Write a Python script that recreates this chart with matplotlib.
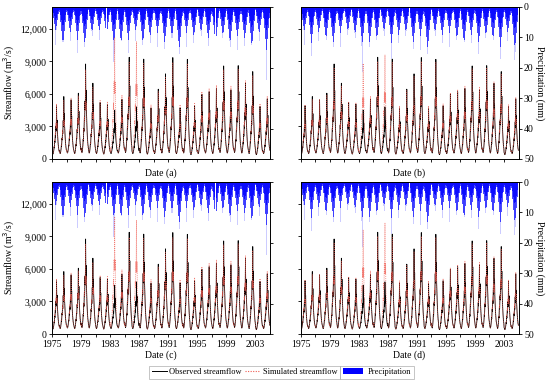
import numpy as np
import matplotlib
matplotlib.use("Agg")
import matplotlib.pyplot as plt
from matplotlib.lines import Line2D
from matplotlib.patches import Patch

plt.rcParams['font.family'] = ['Liberation Serif', 'DejaVu Serif']
plt.rcParams['axes.linewidth'] = 0.6

# ---------------- data ----------------
years = list(range(1975, 2005))

# annual peak of observed streamflow (m3/s)
obs_peak = [4900, 5750, 5450, 6060, 8750, 6980, 5200, 5050, 4500, 5500,
            9370, 4800, 9200, 4700, 6430, 7840, 9340, 4700, 9180, 4900,
            5970, 6200, 6500, 8570, 6370, 8600, 6980, 8050, 4840, 5540]
# annual low flow (m3/s)
obs_base = [450, 500, 550, 500, 600, 550, 500, 450, 500, 550,
            600, 500, 550, 450, 500, 550, 600, 500, 550, 400,
            500, 550, 500, 600, 550, 600, 550, 500, 400, 500]
sim_base = [400, 450, 500, 450, 500, 500, 450, 400, 450, 500,
            550, 450, 500, 400, 450, 500, 550, 450, 500, 380,
            450, 500, 450, 550, 500, 550, 500, 450, 380, 450]

# simulated annual peaks, one list per panel
sim_peak_a = [5100, 5400, 5600, 5800, 8200, 6600, 5400, 5300, 11200, 5900,
              8900, 10800, 8800, 5000, 6200, 7500, 8900, 5000, 8800, 5200,
              6200, 6500, 6800, 8200, 6700, 8300, 7200, 7700, 5100, 5800]
sim_peak_b = [5000, 5500, 5500, 5900, 8400, 6700, 5300, 5200, 8800, 5800,
              9000, 9600, 8900, 4900, 6300, 7600, 9000, 4900, 8900, 5100,
              6100, 6400, 6700, 8300, 6600, 8400, 7100, 7800, 5000, 5700]
sim_peak_c = [5100, 5400, 5600, 5800, 8300, 6600, 5400, 5300, 10800, 5900,
              8900, 10500, 8800, 5000, 6200, 7500, 8900, 5000, 8800, 5200,
              6200, 6500, 6800, 8200, 6700, 8300, 7200, 7700, 5100, 5800]
sim_peak_d = [5000, 5500, 5500, 5900, 8400, 6700, 5300, 5200, 9600, 5800,
              9000, 10200, 8900, 4900, 6300, 7600, 9000, 4900, 8900, 5100,
              6100, 6400, 6700, 8300, 6600, 8400, 7100, 7800, 5000, 5700]

# within-year (dekad, 36 per year) shape of the hydrograph, Jan -> Dec
obs_shape = [0.05, 0.03, 0.02, 0.01, 0.00, 0.01, 0.02, 0.04, 0.07,
             0.10, 0.15, 0.13, 0.20, 0.27, 0.24, 0.33, 0.40, 0.35,
             0.45, 0.58, 0.48, 0.62, 1.00, 0.66, 0.55, 0.70, 0.48,
             0.40, 0.33, 0.27, 0.21, 0.17, 0.13, 0.10, 0.08, 0.06]
sim_shape = [0.06, 0.04, 0.02, 0.01, 0.01, 0.02, 0.03, 0.05, 0.09,
             0.12, 0.17, 0.16, 0.24, 0.30, 0.27, 0.37, 0.44, 0.38,
             0.50, 0.62, 0.52, 0.70, 1.00, 0.60, 0.52, 0.62, 0.44,
             0.36, 0.30, 0.24, 0.19, 0.15, 0.11, 0.09, 0.07, 0.06]

# precipitation (mm): depth of dense core and of sparse tail for each year
prec_core = [8.0, 12.0, 8.5, 10.7, 12.0, 8.5, 8.0, 9.0, 12.0, 12.0,
             10.7, 8.0, 12.0, 9.6, 8.5, 12.0, 9.6, 14.0, 8.5, 9.6,
             8.5, 10.7, 12.0, 9.6, 12.0, 9.6, 10.7, 13.0, 8.5, 14.0]
prec_tail = [14.5, 16.0, 13.0, 15.0, 15.5, 13.0, 12.5, 14.0, 25.0, 15.5,
             15.0, 13.0, 17.0, 14.0, 13.0, 16.0, 14.0, 18.0, 13.0, 14.0,
             13.0, 15.0, 16.0, 14.0, 18.0, 14.0, 15.0, 17.0, 13.0, 24.0]
prec_shape = [0.12, 0.15, 0.20, 0.25, 0.30, 0.35, 0.40, 0.45, 0.50,
              0.55, 0.60, 0.65, 0.70, 0.75, 0.80, 0.85, 0.90, 0.95,
              1.00, 0.95, 0.90, 0.85, 0.80, 0.75, 0.70, 0.65, 0.60,
              0.55, 0.50, 0.45, 0.40, 0.35, 0.30, 0.25, 0.20, 0.15]

panel_letters = ['a', 'b', 'c', 'd']
sim_peaks = [sim_peak_a, sim_peak_b, sim_peak_c, sim_peak_d]
year_ticks = [1975, 1979, 1983, 1987, 1991, 1995, 1999, 2003]

# ---------------- build series ----------------
nd = 36
t = np.array([y + (d + 0.5) / nd for y in years for d in range(nd)])


def series(peaks, base, shape):
    return np.array([b + (p - b) * s for p, b in zip(peaks, base) for s in shape])


obs = series(obs_peak, obs_base, obs_shape)
shp = np.array(prec_shape)
p_core = np.concatenate([c * shp for c in prec_core])
p_dense = np.concatenate([0.55 * c * shp for c in prec_core])
p_tail = np.concatenate([tl * shp ** 3 for tl in prec_tail])

# ---------------- figure ----------------
fig = plt.figure(figsize=(5.5, 3.83), dpi=100)
W, H = 550.0, 383.0
boxes = [(52, 7), (300.5, 7), (52, 182), (300.5, 182)]
aw, ah = 218, 152
blue = '#0000ff'
simcol = '#ee5a50'

for i, (x0, y0) in enumerate(boxes):
    ax = fig.add_axes([x0 / W, 1 - (y0 + ah) / H, aw / W, ah / H])
    ax2 = ax.twinx()
    ax.set_zorder(2)
    ax.patch.set_visible(False)

    bw = 1.0 / nd
    ax2.bar(t, p_tail, width=bw, color=blue, alpha=0.2, linewidth=0)
    ax2.bar(t, p_core, width=bw, color=blue, alpha=0.7, linewidth=0)
    ax2.bar(t, p_dense, width=bw, color=blue, alpha=0.8, linewidth=0)
    ax2.set_ylim(50, 0)
    ax2.set_yticks([0, 10, 20, 30, 40, 50])

    sim = series(sim_peaks[i], sim_base, sim_shape)
    ax.plot(t, obs, color='black', lw=0.6)
    ax.plot(t, sim, color=simcol, lw=0.6, ls=(0, (1, 1.3)), alpha=0.8)

    ax.set_xlim(1975, 2005)
    ax.set_ylim(0, 14000)
    ax.set_yticks([0, 3000, 6000, 9000, 12000])
    ax.set_xticks(year_ticks)
    ax.set_xticks(list(range(1977, 2005, 4)), minor=True)
    ax.tick_params(axis='both', which='both', direction='out', labelsize=7,
                   length=2.5, width=0.6, pad=1.5)
    ax2.tick_params(axis='y', direction='out', labelsize=7, length=2.5, width=0.6, pad=1.5)
    ax.tick_params(axis='x', which='minor', length=2)

    if i % 2 == 0:
        ax.set_yticklabels(['0', '3,000', '6,000', '9,000', '12,000'])
        ax.set_ylabel('Streamflow (m$^3$/s)', fontsize=7, labelpad=2)
        ax2.set_yticklabels([])
    else:
        ax.set_yticklabels([])
        ax2.set_ylabel('Precipitation (mm)', fontsize=7, rotation=270, labelpad=8)
    if i < 2:
        ax.set_xticklabels([])
        ax.set_xlabel('Date (%s)' % panel_letters[i], fontsize=7, labelpad=3)
    else:
        ax.set_xticklabels([str(y) for y in year_ticks])
        ax.set_xlabel('Date (%s)' % panel_letters[i], fontsize=7, labelpad=1.5)

# legends
h1 = [Line2D([], [], color='black', lw=0.7),
      Line2D([], [], color=simcol, lw=0.8, ls=(0, (1, 1.3)))]
leg1 = fig.legend(h1, ['Observed streamflow', 'Simulated streamflow'], ncol=2,
                  loc='center left', bbox_to_anchor=(149 / W, 1 - 372 / H),
                  fontsize=6, frameon=True, fancybox=False, edgecolor='#999999',
                  handlelength=1.8, columnspacing=0.4, handletextpad=0.35,
                  borderpad=0.3, borderaxespad=0)
leg1.get_frame().set_linewidth(0.5)
fig.canvas.draw()
bb = leg1.get_window_extent()
x_after = bb.x1 / fig.bbox.width
h2 = [Patch(facecolor=blue, edgecolor='none')]
leg2 = fig.legend(h2, ['Precipitation'], loc='center left',
                  bbox_to_anchor=(x_after, 1 - 372 / H),
                  fontsize=6, frameon=True, fancybox=False, edgecolor='#999999',
                  handlelength=2.5, handletextpad=0.5, borderpad=0.3, borderaxespad=0)
leg2.get_frame().set_linewidth(0.5)

fig.savefig('out.png', dpi=100)
